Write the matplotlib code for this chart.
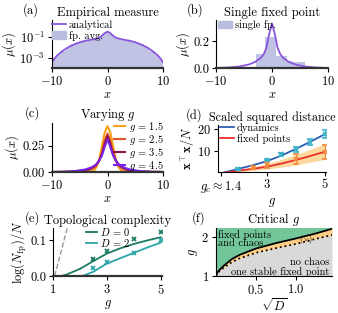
import matplotlib
matplotlib.use('Agg')
import matplotlib.pyplot as plt
from matplotlib.patches import Patch
from matplotlib.lines import Line2D

plt.rcParams['font.family'] = 'serif'
plt.rcParams['font.serif'] = ['cmr10', 'DejaVu Serif']
plt.rcParams['mathtext.fontset'] = 'cm'
plt.rcParams['axes.formatter.use_mathtext'] = True
plt.rcParams['axes.unicode_minus'] = False
plt.rcParams['xtick.labelsize'] = 9
plt.rcParams['ytick.labelsize'] = 9
plt.rcParams['axes.labelsize'] = 9

# (a) empirical measure, log scale
xa = [-10, -9.5, -9, -8, -7, -6, -5, -4, -3, -2, -1.5, -1, -0.5, 0,
      0.5, 1, 1.5, 2, 3, 4, 5, 6, 7, 8, 9, 9.5, 10]
ya = [3.5e-4, 9e-4, 1.8e-3, 5e-3, 1.1e-2, 2e-2, 3.2e-2, 4.5e-2, 5.6e-2, 7.4e-2,
      8.9e-2, 0.14, 0.25, 0.35,
      0.25, 0.14, 8.9e-2, 7.4e-2, 5.6e-2, 4.5e-2, 3.2e-2, 2e-2, 1.1e-2, 5e-3,
      1.8e-3, 9e-4, 3.5e-4]

# (b) single fixed point
xb = [-10, -8, -6, -5, -4, -3, -2, -1.5, -1, -0.5, 0, 0.5, 1, 1.5, 2, 3, 4, 5, 6, 8, 10]
yb = [0.0, 0.003, 0.01, 0.018, 0.028, 0.045, 0.075, 0.1, 0.15, 0.25, 0.33,
      0.25, 0.15, 0.1, 0.075, 0.045, 0.028, 0.018, 0.01, 0.003, 0.0]
hist_b_edges = [-2.9, -1.2, 0.8, 2.7, 3.6, 5.9]
hist_b_vals = [0.10, 0.23, 0.09, 0.05, 0.045]

# (c) varying g
xc = [-10, -8, -6, -4, -3, -2.5, -2, -1.5, -1, -0.5, 0, 0.5, 1, 1.5, 2, 2.5, 3, 4, 6, 8, 10]
g_labels = ['1.5', '2.5', '3.5', '4.5']
yc_15 = [0, 0, 0, 0, 0.003, 0.012, 0.045, 0.12, 0.25, 0.38, 0.44,
         0.38, 0.25, 0.12, 0.045, 0.012, 0.003, 0, 0, 0, 0]
yc_25 = [0, 0.0005, 0.002, 0.01, 0.025, 0.04, 0.065, 0.11, 0.19, 0.3, 0.37,
         0.3, 0.19, 0.11, 0.065, 0.04, 0.025, 0.01, 0.002, 0.0005, 0]
yc_35 = [0.0003, 0.001, 0.004, 0.017, 0.035, 0.05, 0.07, 0.11, 0.17, 0.27, 0.345,
         0.27, 0.17, 0.11, 0.07, 0.05, 0.035, 0.017, 0.004, 0.001, 0.0003]
yc_45 = [0.0005, 0.002, 0.008, 0.024, 0.042, 0.056, 0.075, 0.11, 0.16, 0.24, 0.315,
         0.24, 0.16, 0.11, 0.075, 0.056, 0.042, 0.024, 0.008, 0.002, 0.0005]

# (d) scaled squared distance
gd = [1.4, 2.0, 2.5, 3.0, 3.5, 4.0, 4.5, 5.0]
dyn_line = [0.0, 2.0, 3.6, 5.5, 8.0, 11.0, 14.2, 17.6]
fp_line = [0.0, 1.2, 2.0, 3.0, 4.4, 6.0, 7.8, 9.7]
fp_upper = [0.0, 1.6, 2.8, 4.3, 6.3, 8.5, 10.8, 13.3]
fp_lower = [0.0, 0.8, 1.3, 2.0, 2.8, 3.8, 5.0, 6.3]
g_dyn = [2.0, 3.0, 3.5, 4.0, 4.5, 5.0]
dyn_pts = [2.0, 6.0, 8.5, 10.9, 14.2, 17.9]
dyn_err = [0.3, 0.6, 0.8, 1.2, 1.5, 1.8]
g_fp = [2.5, 3.0, 4.0, 5.0]
fp_pts = [2.6, 3.8, 6.3, 9.7]
fp_err = [0.8, 1.2, 2.3, 3.3]

# (e) topological complexity
ge = [1.0, 1.3, 1.5, 2.0, 2.5, 3.0, 3.5, 4.0, 4.5, 5.0]
comp_d0 = [0.0, 0.0, 0.004, 0.02, 0.042, 0.063, 0.078, 0.09, 0.1, 0.109]
ge2 = [1.0, 2.1, 2.5, 3.0, 3.5, 4.0, 4.5, 5.0]
comp_d2 = [0.0, 0.0, 0.012, 0.035, 0.05, 0.065, 0.08, 0.094]
g_mark = [2.5, 3.0, 4.0, 5.0]
mark_d0 = [0.047, 0.069, 0.103, 0.124]
mark_d2 = [0.022, 0.040, 0.065, 0.100]
dash_g = [1.06, 1.62]
dash_y = [0.0, 0.16]

# (f) critical g
sqd = [0.0, 0.02, 0.05, 0.1, 0.2, 0.3, 0.5, 0.75, 1.0, 1.25, 1.45]
gc_solid = [1.0, 1.1, 1.17, 1.27, 1.44, 1.55, 1.71, 1.85, 1.97, 2.1, 2.22]
gc_dotted = [1.0, 1.08, 1.14, 1.22, 1.36, 1.46, 1.6, 1.72, 1.83, 1.96, 2.06]

purple = '#8b55dd'
lav = '#b9bde0'
LEG = 7.5

W, H = 338.0, 313.0
fig = plt.figure(figsize=(3.38, 3.13), dpi=100)


def box(l, r, t, b):
    return fig.add_axes([l / W, 1 - b / H, (r - l) / W, (b - t) / H])


def style(ax, thick_bottom=True):
    for s in ['top', 'right']:
        ax.spines[s].set_visible(False)
    ax.spines['left'].set_linewidth(0.8)
    if thick_bottom:
        ax.spines['bottom'].set_linewidth(1.6)
        ax.spines['bottom'].set_color('#333333')
    else:
        ax.spines['bottom'].set_linewidth(0.8)
    ax.tick_params(direction='out', length=3, width=0.8, pad=2)
    ax.minorticks_off()


def panel(ax, lab, title, xlab_px, size=9):
    ax.set_title(title, fontsize=size, pad=3)
    y = ax.get_position().y1
    fig.text(xlab_px / W, y + 3 / H, lab, fontsize=9, va='bottom')


# (a)
ax = box(52, 163, 20, 68)
ax.fill_between(xa, ya, 1e-4, step='mid', color=lav, alpha=0.9, lw=0)
ax.plot(xa, ya, color=purple, lw=1.3)
ax.set_yscale('log')
ax.set_ylim(1e-4, 4.7)
ax.set_xlim(-10, 10)
ax.set_xticks([-10, 0, 10])
ax.set_yticks([1e-1, 1e-3])
ax.minorticks_off()
ax.set_xlabel('$x$', labelpad=1)
ax.set_ylabel(r'$\mu(x)$', labelpad=1)
style(ax)
ax.legend([Line2D([], [], color=purple, lw=1.3), Patch(color=lav)],
          ['analytical', 'fp. avg.'], loc='upper left', bbox_to_anchor=(0, 1.0),
          frameon=False, fontsize=LEG, handlelength=1.3, handletextpad=0.3,
          labelspacing=0.05, borderpad=0, borderaxespad=0)
panel(ax, '(a)', 'Empirical measure', 23)

# (b)
ax = box(216, 328, 20, 68)
ax.stairs(hist_b_vals, hist_b_edges, fill=True, color=lav, alpha=0.9, lw=0)
ax.plot(xb, yb, color=purple, lw=1.3)
ax.set_xlim(-10, 10)
ax.set_ylim(0, 0.355)
ax.set_xticks([-10, 0, 10])
ax.set_yticks([0.0, 0.2])
ax.set_xlabel('$x$', labelpad=1)
ax.set_ylabel(r'$\mu(x)$', labelpad=1)
style(ax)
ax.legend([Patch(color=lav)], ['single fp.'], loc='upper left',
          bbox_to_anchor=(0.02, 1.0), frameon=False, fontsize=LEG,
          handlelength=1.3, handletextpad=0.3, borderpad=0, borderaxespad=0)
ax.set_yticklabels(['0.0', '0.2'])
panel(ax, '(b)', 'Single fixed point', 187)

# (c)
ax = box(52, 163, 123, 172)
cols_c = ['#f7a11a', '#e0562c', '#8c1048', '#7a22e6']
for yv, c, lab in zip([yc_15, yc_25, yc_35, yc_45], cols_c, g_labels):
    ax.plot(xc, yv, color=c, lw=1.5, label='$g$ = ' + lab)
ax.set_xlim(-10, 10)
ax.set_ylim(0, 0.47)
ax.set_xticks([-10, 0, 10])
ax.set_yticks([0.0, 0.25])
ax.set_yticklabels(['0.00', '0.25'])
ax.set_xlabel('$x$', labelpad=1)
ax.set_ylabel(r'$\mu(x)$', labelpad=1)
style(ax)
ax.legend(loc='upper right', bbox_to_anchor=(1.01, 1.06), frameon=False,
          fontsize=LEG, handlelength=1.1, handletextpad=0.4, labelspacing=-0.1,
          borderpad=0, borderaxespad=0)
panel(ax, '(c)', 'Varying $g$', 25)

# (d)
ax = box(218, 326, 125, 172)
ax.fill_between(gd, fp_lower, fp_upper, color='#fdd38c', alpha=0.85, lw=0)
ax.plot(gd, dyn_line, color='#2a5fb5', lw=1.3, label='dynamics')
ax.plot(gd, fp_line, color='#e8302a', lw=1.3, label='fixed points')
ax.errorbar(g_dyn, dyn_pts, yerr=dyn_err, fmt='x', color='#3cb4c8', ms=3.5,
            mew=1.2, capsize=2.5, elinewidth=1, capthick=1)
ax.errorbar(g_fp, fp_pts, yerr=fp_err, fmt='x', color='#f08a3e', ms=3.5,
            mew=1.2, capsize=2.5, elinewidth=1, capthick=1)
ax.set_xlim(1.3, 5.05)
ax.set_ylim(0.6, 21.8)
ax.set_xticks([1.4, 3, 5])
ax.set_xticklabels([r'$g_c \approx 1.4$', '3', '5'])
ax.set_yticks([10, 20])
ax.set_xlabel('$g$', labelpad=1)
ax.set_ylabel(r'$\mathbf{x}^{\top}\mathbf{x}/N$', labelpad=1)
style(ax, thick_bottom=False)
ax.legend(loc='upper left', bbox_to_anchor=(0.02, 1.04), frameon=False,
          fontsize=LEG, handlelength=1.3, handletextpad=0.3, labelspacing=0.05,
          borderpad=0, borderaxespad=0)
panel(ax, '(d)', 'Scaled squared distance', 186, size=8.8)

# (e)
ax = box(53, 162, 228, 276)
ax.plot(dash_g, dash_y, color='#999999', lw=1, ls='--')
ax.plot(ge, comp_d0, color='#1a7a63', lw=1.3, label='$D$ = 0')
ax.plot(ge2, comp_d2, color='#2aa5a8', lw=1.3, label='$D$ = 2')
ax.plot(g_mark, mark_d0, 'x', color='#1a7a63', ms=3.5, mew=1.3)
ax.plot(g_mark, mark_d2, 'x', color='#2aa5a8', ms=3.5, mew=1.3)
ax.set_xlim(1, 5.05)
ax.set_ylim(0, 0.135)
ax.set_xticks([1, 3, 5])
ax.set_yticks([0.0, 0.1])
ax.set_yticklabels(['0.0', '0.1'])
ax.set_xlabel('$g$', labelpad=1)
ax.set_ylabel(r'$\log(N_{\mathrm{fp}})/N$', labelpad=1)
style(ax)
ax.legend(loc='upper left', bbox_to_anchor=(0.3, 1.04), frameon=False,
          fontsize=LEG, handlelength=1.1, handletextpad=0.3, labelspacing=-0.1,
          borderpad=0, borderaxespad=0)
panel(ax, '(e)', 'Topological complexity', 25)

# (f)
ax = box(216, 332, 228, 276)
ax.fill_between(sqd, gc_solid, 2.5, color='#72c69a', lw=0)
ax.fill_between(sqd, gc_dotted, gc_solid, color='#ffce86', lw=0)
ax.fill_between(sqd, 1.0, gc_dotted, color='#d9d9d9', lw=0)
ax.plot(sqd, gc_solid, color='black', lw=1.3)
ax.plot(sqd, gc_dotted, color='black', lw=1.3, ls=':')
ax.set_xlim(0, 1.45)
ax.set_ylim(1, 2.24)
ax.set_xticks([0.5, 1.0])
ax.set_yticks([1, 2])
ax.set_xlabel(r'$\sqrt{D}$', labelpad=0)
ax.set_ylabel('$g$', labelpad=1)
style(ax, thick_bottom=False)
ax.text(0.03, 2.2, 'fixed points\nand chaos', fontsize=LEG, va='top', linespacing=0.85)
ax.text(1.13, 1.95, r'$(\times)$', fontsize=6, ha='center', va='center')
ax.text(1.42, 1.36, 'no chaos', fontsize=LEG, ha='right', va='center')
ax.text(1.42, 1.1, 'one stable fixed point', fontsize=LEG, ha='right', va='center')
panel(ax, '(f)', 'Critical $g$', 192)

fig.savefig('out.png', dpi=100)
